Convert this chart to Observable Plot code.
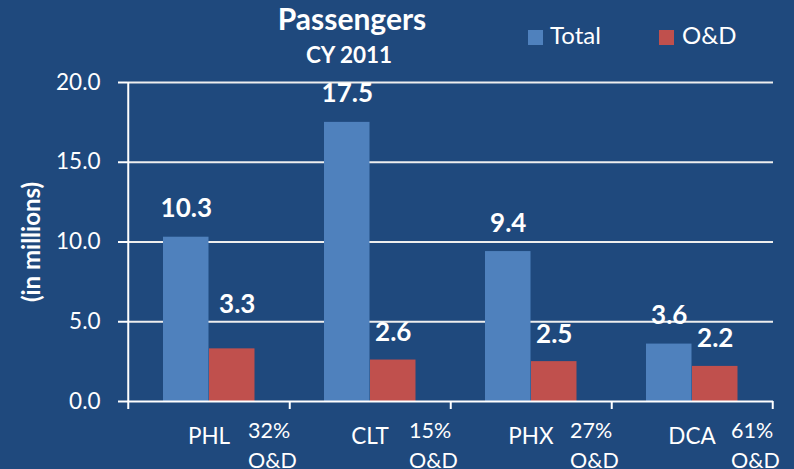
<!DOCTYPE html>
<html><head><meta charset="utf-8">
<script src="https://cdn.jsdelivr.net/npm/d3@7"></script>
<script src="https://cdn.jsdelivr.net/npm/@observablehq/plot@0.6"></script>
<style>
html,body{margin:0;padding:0;background:#1F497D;}
#wrap{position:relative;width:794px;height:469px;overflow:hidden;font-family:Lato,sans-serif;color:#fff;background:#1F497D;}
.abs{position:absolute;white-space:nowrap;line-height:1;}
.sw{position:absolute;width:15px;height:15px;}
</style></head><body>
<div id="wrap">
  <div id="chart"></div>
  <div class="abs" style="left:352px;top:3px;font-size:30px;font-weight:700;transform:translateX(-50%)">Passengers</div>
  <div class="abs" style="left:349px;top:44px;font-size:22.5px;font-weight:700;transform:translateX(-50%)">CY 2011</div>
  <div class="sw" style="left:528px;top:30px;background:#4F81BD"></div>
  <div class="abs" style="left:550px;top:23px;font-size:24px">Total</div>
  <div class="sw" style="left:659px;top:30px;background:#C0504D"></div>
  <div class="abs" style="left:682px;top:23px;font-size:24px">O&amp;D</div>
  <div class="abs" style="left:31px;top:242px;font-size:24px;font-weight:700;transform:translate(-50%,-50%) rotate(-90deg)">(in millions)</div>
</div>
<script>
const categories = ["PHL", "CLT", "PHX", "DCA"];
const totalPassengers = [10.3, 17.5, 9.4, 3.6];
const odPassengers = [3.3, 2.6, 2.5, 2.2];
const odShare = [32, 15, 27, 61];
const yTicks = [0, 5, 10, 15, 20];

const rows = categories.map((c, i) => ({cat: c, total: totalPassengers[i], od: odPassengers[i], share: odShare[i]}));

const W = 794, H = 469, mL = 127, mR = 21, mT = 82, mB = 68;
const bw = (W - mL - mR) / categories.length;
const barW = 46;
const inTotL = 35, inOdL = inTotL + barW;
const fmt = d3.format(".1f");
const white = "#ffffff";

const chart = Plot.plot({
  width: W, height: H,
  marginLeft: mL, marginRight: mR, marginTop: mT, marginBottom: mB,
  style: {background: "transparent", color: white, fontFamily: "Lato, sans-serif", overflow: "visible"},
  x: {domain: categories, padding: 0, axis: null},
  y: {domain: [0, 20], axis: null},
  marks: [
    Plot.ruleY(yTicks.slice(1), {stroke: "#eeeeee", strokeWidth: 2}),
    Plot.axisY({ticks: yTicks, tickFormat: fmt, tickSize: 9, tickPadding: 18, fontSize: 22.5, label: null, stroke: white, strokeWidth: 2}),
    Plot.barY(rows, {x: "cat", y: "total", fill: "#4F81BD", insetLeft: inTotL, insetRight: bw - inTotL - barW}),
    Plot.barY(rows, {x: "cat", y: "od", fill: "#C0504D", insetLeft: inOdL, insetRight: bw - inOdL - barW}),
    Plot.ruleY([0], {stroke: white, strokeWidth: 2}),
    Plot.ruleX(categories.slice(0, 1), {x: d => d, dx: -bw / 2, y1: 20, y2: -0.5, stroke: white, strokeWidth: 2}),
    Plot.ruleX(categories, {x: d => d, dx: bw / 2, y1: 0, y2: -0.5, stroke: white, strokeWidth: 2}),
    Plot.text(rows, {x: "cat", y: "total", text: d => fmt(d.total), dx: inTotL + barW / 2 - bw / 2, dy: -20, lineAnchor: "bottom", fontWeight: 700, fontSize: 26, fill: white}),
    Plot.text(rows, {filter: d => d.cat !== "PHL", x: "cat", y: "od", text: d => fmt(d.od), dx: inOdL + barW / 2 - bw / 2, dy: -19, lineAnchor: "bottom", fontWeight: 700, fontSize: 26, fill: white}),
    Plot.text(rows, {filter: d => d.cat === "PHL", x: "cat", y: "od", text: d => fmt(d.od), dx: inOdL + barW / 2 - bw / 2 + 5, dy: -36, lineAnchor: "bottom", fontWeight: 700, fontSize: 26, fill: white}),
    Plot.text(rows, {x: "cat", y: () => 0, text: "cat", dy: 42, lineAnchor: "bottom", fontSize: 22.5, fill: white}),
    Plot.text(rows, {x: "cat", y: () => 0, text: d => `${d.share}%\nO&D`, textAnchor: "start", dx: 39, dy: 16, lineAnchor: "top", lineHeight: 1.36, fontSize: 21.5, fill: white})
  ]
});
document.getElementById("chart").append(chart);
</script>
</body></html>
